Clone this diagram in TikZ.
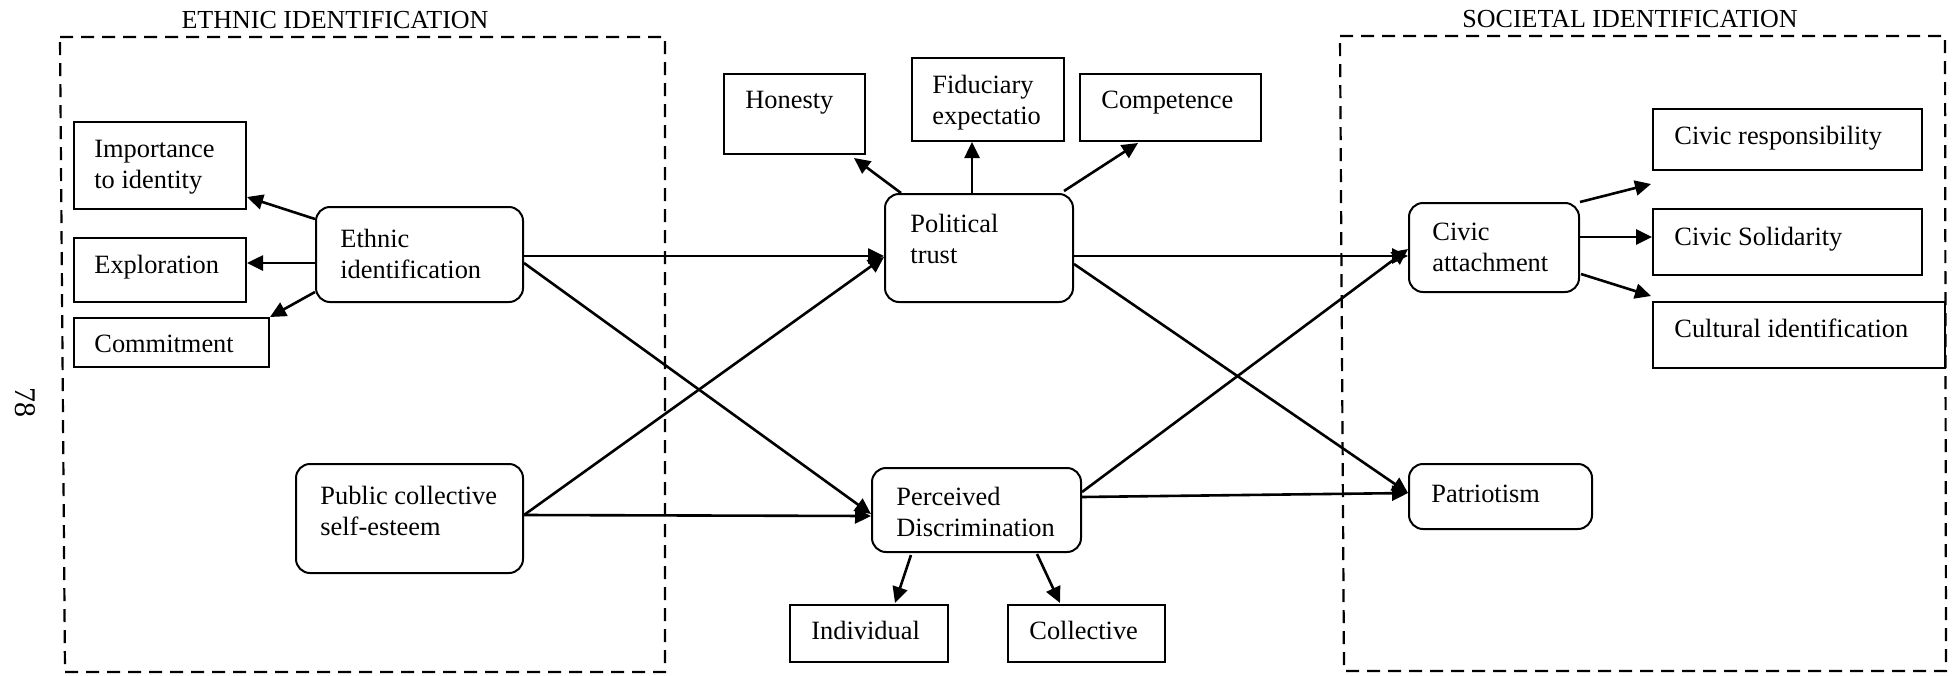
\documentclass[tikz,border=0pt]{standalone}
\usepackage{fontspec}
\setmainfont{Liberation Serif}
\usetikzlibrary{arrows.meta,calc,fit}

% two left-aligned lines whose baseline is the first line's
\newcommand\twoline[2]{\begin{tabular}[t]{@{}l@{}}#1\\#2\end{tabular}}

\begin{document}
\begin{tikzpicture}[x=0.5pt,y=-0.5pt,
  sqbox/.style={draw, line width=1pt, inner sep=0pt},
  rbox/.style={sqbox, rounded corners=7pt},
  lbl/.style={anchor=base west, inner sep=0pt, font=\fontsize{13.2}{15.5}\selectfont},
  ttl/.style={anchor=base, inner sep=0pt, font=\fontsize{13}{15}\selectfont},
  arr/.style={line width=1.3pt, -{Triangle[length=8pt,width=7.5pt]}},
  grp/.style={line width=1.1pt, dash pattern=on 6.5pt off 4pt}]

\useasboundingbox (0,0) rectangle (1953,675);

% group frames and their headings
\draw[grp] (60,37) -- (665,37) -- (665,672) -- (65,672) -- cycle;
\draw[grp] (1340,36) -- (1945,36) -- (1946,671) -- (1344,671) -- cycle;
\node[ttl] (ttl-eth) at (335,28) {ETHNIC IDENTIFICATION};
\node[ttl] (ttl-soc) at (1630,27) {SOCIETAL IDENTIFICATION};

% page number
\node[rotate=-90, inner sep=0pt, font=\fontsize{15}{18}\selectfont] (pgno) at (25,402) {78};

% boxes
\node[sqbox, fit={(74,122) (246,209)}] (imp) {};
\node[sqbox, fit={(74,238) (246,302)}] (exp) {};
\node[sqbox, fit={(74,318) (269,367)}] (com) {};
\node[rbox,  fit={(316,207) (523,302)}] (eth) {};
\node[rbox,  fit={(296,464) (523,573)}] (pub) {};
\node[sqbox, fit={(724,74) (865,154)}] (hon) {};
\node[sqbox, fit={(912,58) (1064,141)}] (fid) {};
\node[sqbox, fit={(1080,74) (1261,141)}] (cmp) {};
\node[rbox,  fit={(885,194) (1073,302)}] (pol) {};
\node[rbox,  fit={(872,468) (1081,552)}] (per) {};
\node[sqbox, fit={(790,605) (948,662)}] (ind) {};
\node[sqbox, fit={(1008,605) (1165,662)}] (col) {};
\node[rbox,  fit={(1409,203) (1579,292)}] (civ) {};
\node[sqbox, fit={(1653,109) (1922,170)}] (res) {};
\node[sqbox, fit={(1653,209) (1922,275)}] (sol) {};
\node[sqbox, fit={(1653,302) (1945,368)}] (cul) {};
\node[rbox,  fit={(1409,464) (1592,529)}] (pat) {};

% box texts
\node[lbl] (t-imp) at (94,157)  {\twoline{Importance}{to identity}};
\node[lbl] (t-exp) at (94,273)  {Exploration};
\node[lbl] (t-com) at (94,352)  {Commitment};
\node[lbl] (t-eth) at (340,247) {\twoline{Ethnic}{identification}};
\node[lbl] (t-pub) at (320,504) {\twoline{Public collective}{self-esteem}};
\node[lbl] (t-hon) at (745,108) {Honesty};
\node[lbl] (t-fid) at (932,93)  {\twoline{Fiduciary}{expectatio}};
\node[lbl] (t-cmp) at (1101,108) {Competence};
\node[lbl] (t-pol) at (910,232) {\twoline{Political}{trust}};
\node[lbl] (t-per) at (896,505) {\twoline{Perceived}{Discrimination}};
\node[lbl] (t-ind) at (811,639) {Individual};
\node[lbl] (t-col) at (1029,639) {Collective};
\node[lbl] (t-civ) at (1432,240) {\twoline{Civic}{attachment}};
\node[lbl] (t-res) at (1674,144) {Civic responsibility};
\node[lbl] (t-sol) at (1674,245) {Civic Solidarity};
\node[lbl] (t-cul) at (1674,337) {Cultural identification};
\node[lbl] (t-pat) at (1431,502) {Patriotism};

% ethnic identification indicators
\draw[arr] ($(eth.north west)+(0,13)$) -- ($(imp.south east)+(0,-13)$);
\draw[arr] ($(eth.north west)+(0,57)$) -- ($(exp.north east)+(0,26)$);
\draw[arr] ($(eth.south west)+(0,-11)$) -- (com.north east);

% structural paths
\draw[arr] ($(eth.north east)+(0,50)$) -- ($(pol.north west)+(0,63)$);
\draw[arr] ($(eth.north east)+(0,57)$) -- ($(per.north west)+(0,47)$);
\draw[arr] ($(pub.north east)+(0,52)$) -- ($(pol.north west)+(0,64)$);
\draw[arr] ($(pub.north east)+(0,52)$) -- ($(per.north west)+(0,49)$);
\draw[arr] ($(pol.north east)+(0,63)$) -- ($(civ.north west)+(0,54)$);
\draw[arr] ($(pol.north east)+(0,71)$) -- ($(pat.north west)+(0,30)$);
\draw[arr] ($(per.north east)+(0,25)$) -- ($(civ.north west)+(0,47)$);
\draw[arr] ($(per.north east)+(0,30)$) -- ($(pat.north west)+(0,30)$);

% political trust indicators
\draw[arr] ($(pol.north west)+(17,0)$) -- ($(hon.south east)+(-12,3)$);
\draw[arr] ($(pol.north west)+(88,0)$) -- ($(fid.south west)+(61,0)$);
\draw[arr] ($(pol.north east)+(-10,-2)$) -- ($(cmp.south west)+(59,1)$);

% perceived discrimination indicators
\draw[arr] ($(per.south west)+(40,2)$) -- ($(ind.north west)+(106,-1)$);
\draw[arr] ($(per.south west)+(166,1)$) -- ($(col.north west)+(53,-1)$);

% civic attachment indicators
\draw[arr] (civ.north east) -- ($(res.south west)+(-1,13)$);
\draw[arr] ($(civ.north east)+(0,35)$) -- ($(sol.north west)+(0,29)$);
\draw[arr] ($(civ.north east)+(1,72)$) -- ($(cul.north west)+(-1,-5)$);
\end{tikzpicture}
\end{document}
